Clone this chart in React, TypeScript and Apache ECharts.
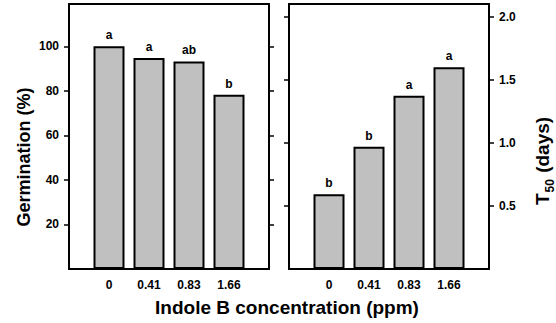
import React, { useEffect, useRef } from "react";
import * as echarts from "echarts";

const categories = ["0", "0.41", "0.83", "1.66"];
const germination = [100, 94.7, 93.2, 78.3];
const germLetters = ["a", "a", "ab", "b"];
const t50 = [0.593, 0.968, 1.373, 1.598];
const t50Letters = ["b", "b", "a", "a"];
const germTicks = [20, 40, 60, 80, 100];
const t50Ticks = [0.5, 1.0, 1.5, 2.0];

const FONT = "Liberation Sans, Arial, sans-serif";

export default function App() {
  const ref = useRef<HTMLDivElement>(null);
  useEffect(() => {
    if (!ref.current) return;
    const chart = echarts.init(ref.current, undefined, { renderer: "svg" });
    const xIdx = categories.map((_, i) => i);
    const lineStyle = { color: "#000", width: 2 };
    const tickStyle = { color: "#000", width: 1.5 };
    const xAxisBase = (gridIndex: number) => ({
      type: "value",
      gridIndex,
      min: -1,
      max: 4,
      axisLine: { show: true, onZero: false, lineStyle },
      splitLine: { show: false },
      axisTick: { show: true, inside: true, length: 2, lineStyle: { color: "#000", width: 1 }, customValues: xIdx },
      axisLabel: {
        customValues: xIdx,
        margin: 10,
        fontFamily: FONT,
        fontWeight: "bold",
        fontSize: 12,
        color: "#000",
        formatter: (v: number) => categories[Math.round(v)] ?? "",
      },
      z: 5,
    });
    const topAxis = (gridIndex: number) => ({
      type: "value",
      gridIndex,
      min: -1,
      max: 4,
      position: "top",
      axisLine: { show: true, onZero: false, lineStyle },
      axisTick: { show: false },
      axisLabel: { show: false },
      splitLine: { show: false },
    });
    const yAxis = (gridIndex: number, max: number, ticks: number[], position: string, labels: boolean, fmt: (v: number) => string) => ({
      type: "value",
      gridIndex,
      min: 0,
      max,
      position,
      axisLine: { show: true, onZero: false, lineStyle },
      splitLine: { show: false },
      axisTick: { show: true, inside: false, length: 5, lineStyle: tickStyle, customValues: ticks },
      axisLabel: {
        show: labels,
        customValues: ticks,
        margin: 10,
        fontFamily: FONT,
        fontWeight: "bold",
        fontSize: 12,
        color: "#000",
        formatter: fmt,
      },
    });
    const barSeries = (axisIdx: number, values: number[], letters: string[]) => ({
      type: "bar",
      xAxisIndex: axisIdx,
      yAxisIndex: axisIdx,
      barWidth: 31,
      data: values.map((v, i) => [i, v]),
      itemStyle: { color: "#c0c0c0", borderColor: "#000", borderWidth: 2 },
      emphasis: { disabled: true },
      label: {
        show: true,
        position: "top",
        distance: 5,
        fontFamily: FONT,
        fontWeight: "bold",
        fontSize: 12,
        color: "#000",
        formatter: (p: any) => letters[p.dataIndex],
      },
    });
    chart.setOption({
      animation: false,
      grid: [
        { left: 69, top: 4, width: 200, height: 265 },
        { left: 289, top: 4, width: 200, height: 265 },
      ],
      xAxis: [xAxisBase(0), xAxisBase(1), topAxis(0), topAxis(1)],
      yAxis: [
        yAxis(0, 119, germTicks, "left", true, (v: number) => String(v)),
        yAxis(1, 2.1, t50Ticks, "right", true, (v: number) => v.toFixed(1)),
        yAxis(0, 119, germTicks, "right", false, (v: number) => String(v)),
        yAxis(1, 2.1, t50Ticks, "left", false, (v: number) => v.toFixed(1)),
      ],
      series: [barSeries(0, germination, germLetters), barSeries(1, t50, t50Letters)],
      graphic: [
        {
          type: "text",
          x: 24,
          y: 157,
          rotation: Math.PI / 2,
          style: {
            text: "Germination (%)",
            fontFamily: FONT,
            fontWeight: "bold",
            fontSize: 18,
            fill: "#000",
            align: "center",
            verticalAlign: "middle",
          },
        },
        {
          type: "text",
          x: 542,
          y: 161,
          rotation: Math.PI / 2,
          style: {
            text: "{t|T}{s|50}{t| (days)}",
            fill: "#000",
            align: "center",
            verticalAlign: "middle",
            rich: {
              t: { fontFamily: FONT, fontWeight: "bold", fontSize: 19, fill: "#000", verticalAlign: "bottom" },
              s: { fontFamily: FONT, fontWeight: "bold", fontSize: 12, fill: "#000", verticalAlign: "bottom", padding: [0, 1, -4, 1] },
            },
          },
        },
        {
          type: "text",
          x: 287,
          y: 307,
          style: {
            text: "Indole B concentration (ppm)",
            fontFamily: FONT,
            fontWeight: "bold",
            fontSize: 19,
            fill: "#000",
            align: "center",
            verticalAlign: "middle",
          },
        },
      ],
    });
    return () => chart.dispose();
  }, []);
  return <div ref={ref} style={{ width: 556, height: 323, position: "absolute", left: 0, top: 0 }} />;
}
